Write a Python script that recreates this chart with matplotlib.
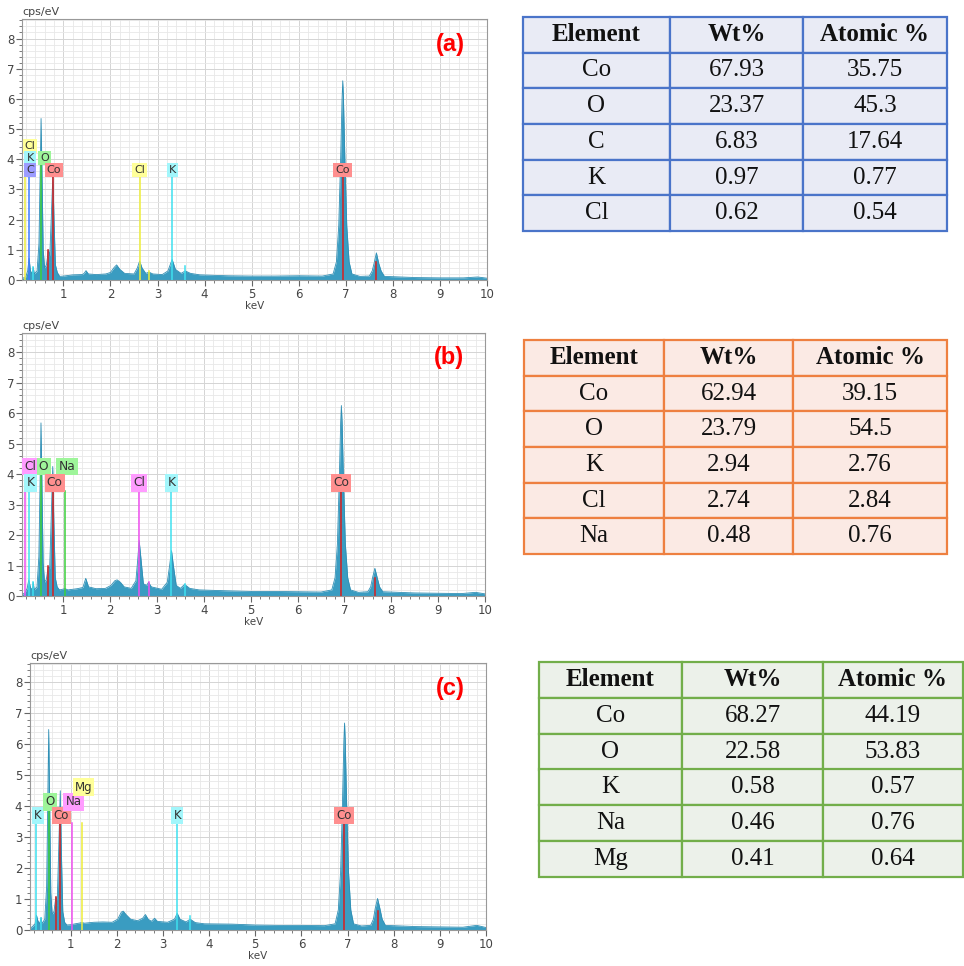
import matplotlib
matplotlib.use('Agg')
import matplotlib.pyplot as plt
from matplotlib.ticker import MultipleLocator

# EDS spectra: energy (keV) and intensity (cps/eV) at the corners of the trace
a_kev = [0.12, 0.20, 0.24, 0.27, 0.30, 0.34, 0.36, 0.38, 0.44, 0.48, 0.50, 0.525, 0.55, 0.57,
         0.60, 0.64, 0.68, 0.71, 0.74, 0.776, 0.80, 0.83, 0.87, 0.92, 1.0, 1.2, 1.4, 1.44,
         1.48, 1.53, 1.7, 1.9, 2.0, 2.08, 2.13, 2.2, 2.3, 2.5, 2.57, 2.62, 2.67, 2.75, 2.82,
         2.9, 3.1, 3.22, 3.31, 3.38, 3.5, 3.59, 3.7, 3.9, 4.5, 5.0, 5.5, 6.0, 6.5, 6.73,
         6.80, 6.85, 6.89, 6.92, 6.935, 6.95, 6.98, 7.02, 7.07, 7.13, 7.3, 7.5, 7.56, 7.6,
         7.65, 7.70, 7.75, 7.82, 8.5, 9.0, 9.5, 9.8, 10.0]
a_cps = [0.05, 0.10, 0.30, 0.72, 0.30, 0.20, 0.42, 0.20, 0.30, 1.2, 3.0, 5.35, 3.0, 1.0,
         0.40, 0.50, 1.0, 0.8, 2.0, 3.5, 2.0, 0.5, 0.25, 0.12, 0.13, 0.17, 0.18, 0.22,
         0.31, 0.20, 0.18, 0.20, 0.25, 0.42, 0.50, 0.35, 0.22, 0.20, 0.40, 0.63, 0.40, 0.22, 0.26,
         0.20, 0.18, 0.30, 0.68, 0.35, 0.22, 0.30, 0.22, 0.17, 0.14, 0.13, 0.13, 0.14, 0.13, 0.2,
         0.6, 1.8, 4.0, 6.0, 6.6, 6.0, 4.0, 1.8, 0.6, 0.2, 0.12, 0.13, 0.3, 0.55,
         0.9, 0.55, 0.3, 0.12, 0.08, 0.07, 0.07, 0.10, 0.06]

b_kev = [0.12, 0.18, 0.23, 0.265, 0.30, 0.34, 0.36, 0.38, 0.44, 0.48, 0.50, 0.525, 0.55, 0.57,
         0.60, 0.64, 0.68, 0.71, 0.74, 0.776, 0.80, 0.83, 0.87, 0.92, 1.04, 1.1, 1.3, 1.42,
         1.48, 1.54, 1.7, 1.9, 2.02, 2.1, 2.15, 2.22, 2.3, 2.45, 2.55, 2.59, 2.62, 2.66, 2.71,
         2.78, 2.82, 2.88, 3.1, 3.22, 3.27, 3.31, 3.35, 3.41, 3.5, 3.59, 3.7, 3.9, 4.5, 5.0,
         5.5, 6.0, 6.5, 6.73, 6.80, 6.85, 6.89, 6.92, 6.935, 6.95, 6.98, 7.02, 7.07, 7.13,
         7.3, 7.5, 7.56, 7.6, 7.65, 7.70, 7.75, 7.82, 8.5, 9.0, 9.5, 9.8, 10.0]
b_cps = [0.05, 0.10, 0.25, 0.53, 0.28, 0.20, 0.45, 0.20, 0.30, 1.3, 3.2, 5.68, 3.2, 1.1,
         0.45, 0.55, 0.96, 0.9, 2.4, 4.25, 2.4, 0.6, 0.30, 0.20, 0.24, 0.20, 0.24, 0.28,
         0.58, 0.30, 0.24, 0.25, 0.35, 0.50, 0.53, 0.45, 0.30, 0.25, 0.50, 1.2, 1.82, 1.2, 0.40,
         0.35, 0.45, 0.30, 0.22, 0.45, 1.0, 1.49, 1.0, 0.35, 0.25, 0.38, 0.25, 0.20, 0.17, 0.15,
         0.15, 0.14, 0.13, 0.2, 0.6, 1.7, 3.8, 5.7, 6.25, 5.7, 3.8, 1.7, 0.6, 0.2,
         0.12, 0.14, 0.3, 0.6, 0.91, 0.6, 0.3, 0.14, 0.10, 0.09, 0.08, 0.12, 0.07]

c_kev = [0.12, 0.18, 0.23, 0.26, 0.29, 0.33, 0.36, 0.38, 0.44, 0.48, 0.50, 0.525, 0.55, 0.57,
         0.60, 0.64, 0.68, 0.71, 0.74, 0.776, 0.80, 0.83, 0.87, 0.92, 1.0, 1.1, 1.25, 1.3,
         1.5, 1.7, 1.9, 2.02, 2.1, 2.14, 2.2, 2.3, 2.45, 2.56, 2.62, 2.68, 2.75, 2.82, 2.88,
         3.1, 3.25, 3.31, 3.37, 3.5, 3.59, 3.7, 3.9, 4.5, 5.0, 5.5, 6.0, 6.5, 6.73,
         6.80, 6.85, 6.89, 6.92, 6.935, 6.95, 6.98, 7.02, 7.07, 7.13, 7.3, 7.5, 7.56, 7.6,
         7.65, 7.70, 7.75, 7.82, 8.5, 9.0, 9.5, 9.8, 10.0]
c_cps = [0.05, 0.12, 0.20, 0.48, 0.30, 0.20, 0.40, 0.20, 0.35, 1.4, 3.6, 6.48, 3.6, 1.2,
         0.50, 0.60, 1.07, 0.95, 2.5, 4.5, 2.5, 0.6, 0.25, 0.16, 0.17, 0.20, 0.24, 0.22,
         0.25, 0.26, 0.25, 0.35, 0.58, 0.61, 0.50, 0.35, 0.30, 0.38, 0.50, 0.35, 0.28, 0.38, 0.28,
         0.25, 0.35, 0.54, 0.35, 0.26, 0.35, 0.24, 0.20, 0.19, 0.16, 0.15, 0.15, 0.14, 0.2,
         0.65, 1.9, 4.1, 6.1, 6.69, 6.1, 4.1, 1.9, 0.65, 0.2, 0.13, 0.15, 0.35, 0.7,
         1.02, 0.7, 0.35, 0.15, 0.11, 0.10, 0.09, 0.15, 0.08]

# element marker lines: (element, keV, height)
a_lines = [('Cl', 0.18, 3.45), ('C', 0.277, 3.45), ('K', 0.36, 0.42), ('O', 0.525, 3.85),
           ('Co', 0.678, 1.0), ('Co', 0.776, 3.45), ('Cl', 2.62, 3.45), ('Cl', 2.82, 0.3),
           ('K', 3.31, 3.45), ('K', 3.59, 0.45), ('Co', 6.93, 3.45), ('Co', 7.65, 0.6)]
b_lines = [('Cl', 0.18, 3.45), ('K', 0.27, 3.45), ('K', 0.36, 0.45), ('O', 0.525, 3.95),
           ('Co', 0.678, 1.0), ('Co', 0.776, 3.45), ('Na', 1.04, 3.45), ('Cl', 2.62, 3.45),
           ('Cl', 2.82, 0.45), ('K', 3.31, 3.45), ('K', 3.59, 0.4), ('Co', 6.93, 3.45),
           ('Co', 7.65, 0.6)]
c_lines = [('K', 0.26, 3.45), ('K', 0.36, 0.4), ('O', 0.525, 3.9), ('Co', 0.678, 1.07),
           ('Co', 0.776, 3.45), ('Na', 1.04, 3.45), ('Mg', 1.25, 3.45), ('K', 3.31, 3.45),
           ('K', 3.59, 0.45), ('Co', 6.93, 3.45), ('Co', 7.65, 0.6)]

# element tags: (element, keV, stack row)
a_tags = [('Cl', 0.29, 2), ('K', 0.29, 1), ('C', 0.29, 0), ('O', 0.60, 1), ('Co', 0.80, 0),
          ('Cl', 2.62, 0), ('K', 3.31, 0), ('Co', 6.93, 0)]
b_tags = [('Cl', 0.29, 1), ('K', 0.30, 0), ('O', 0.58, 1), ('Na', 1.08, 1), ('Co', 0.82, 0),
          ('Cl', 2.62, 0), ('K', 3.31, 0), ('Co', 6.93, 0)]
c_tags = [('K', 0.29, 0), ('O', 0.55, 1), ('Co', 0.80, 0), ('Na', 1.06, 1), ('Mg', 1.28, 2),
          ('K', 3.31, 0), ('Co', 6.93, 0)]

# quantification tables
header = ['Element', 'Wt%', 'Atomic %']
a_el = ['Co', 'O', 'C', 'K', 'Cl']
a_wt = ['67.93', '23.37', '6.83', '0.97', '0.62']
a_at = ['35.75', '45.3', '17.64', '0.77', '0.54']
b_el = ['Co', 'O', 'K', 'Cl', 'Na']
b_wt = ['62.94', '23.79', '2.94', '2.74', '0.48']
b_at = ['39.15', '54.5', '2.76', '2.84', '0.76']
c_el = ['Co', 'O', 'K', 'Na', 'Mg']
c_wt = ['68.27', '22.58', '0.58', '0.46', '0.41']
c_at = ['44.19', '53.83', '0.57', '0.76', '0.64']

# line / tag colours
BLUE = ('#3d7dff', '#9c9cff')
CYAN = ('#3fe0ef', '#a2f6fb')
GREEN = ('#3ccf3c', '#9ef59a')
RED = ('#d81e1e', '#ff8f8f')
YELLOW = ('#eeee3a', '#ffff99')
MAGENTA = ('#f050f0', '#ff9cff')
a_col = {'C': BLUE, 'K': CYAN, 'O': GREEN, 'Co': RED, 'Cl': YELLOW}
b_col = {'K': CYAN, 'O': GREEN, 'Co': RED, 'Cl': MAGENTA, 'Na': GREEN}
c_col = {'K': CYAN, 'O': GREEN, 'Co': RED, 'Na': MAGENTA, 'Mg': YELLOW}

W, H = 964, 966
fig = plt.figure(figsize=(W / 100, H / 100), dpi=100)


def px_rect(left, top, right, bottom):
    return [left / W, 1 - bottom / H, (right - left) / W, (bottom - top) / H]


def spectrum(rect, kev, cps, lines, tags, cols, rows, tag, tagsize):
    ax = fig.add_axes(rect)
    ax.fill_between(kev, cps, color='#3a9cc1', lw=0, zorder=2)
    ax.plot(kev, cps, color='#2f8fb5', lw=0.6, zorder=2)
    for el, e, top in lines:
        ax.plot([e, e], [0, top], color=cols[el][0], lw=1.1, zorder=3)
    for el, e, r in tags:
        ax.text(e, rows[r], el, ha='center', va='center', fontsize=tagsize, color='#333333',
                zorder=4, bbox=dict(boxstyle='square,pad=0.18', fc=cols[el][1], ec='none'))
    ax.set_xlim(0.12, 10)
    ax.set_ylim(0, 8.63)
    ax.xaxis.set_major_locator(MultipleLocator(1))
    ax.xaxis.set_minor_locator(MultipleLocator(0.2))
    ax.yaxis.set_major_locator(MultipleLocator(1))
    ax.yaxis.set_minor_locator(MultipleLocator(0.2))
    ax.grid(which='minor', color='#e8e8e8', lw=0.6)
    ax.grid(which='major', color='#d4d4d4', lw=0.7)
    ax.set_axisbelow(True)
    ax.tick_params(which='major', length=4, width=0.8, color='#666666', labelsize=8.5,
                   labelcolor='#444444', pad=1.5)
    ax.tick_params(which='minor', length=2, width=0.6, color='#666666')
    for s in ax.spines.values():
        s.set_color('#999999')
        s.set_linewidth(0.8)
    ax.set_xlabel('keV', fontsize=7.5, color='#444444', labelpad=0)
    ax.text(0.0, 1.008, 'cps/eV', transform=ax.transAxes, fontsize=8, color='#444444',
            ha='left', va='bottom')
    ax.text(0.922, 0.905, tag, transform=ax.transAxes, fontsize=17, color='#ff0000',
            fontweight='bold', family='Liberation Sans', ha='center', va='center')


def table(rect, el, wt, at, edge, face, widths):
    ax = fig.add_axes(rect)
    ax.axis('off')
    body = [list(r) for r in zip(el, wt, at)]
    tot = sum(widths)
    tb = ax.table(cellText=body, colLabels=header, colWidths=[w / tot for w in widths],
                  cellLoc='center', bbox=[0, 0, 1, 1])
    tb.auto_set_font_size(False)
    for (r, c), cell in tb.get_celld().items():
        cell.set_edgecolor(edge)
        cell.set_facecolor(face)
        cell.set_linewidth(1.6)
        t = cell.get_text()
        t.set_fontfamily('Liberation Serif')
        t.set_fontsize(18)
        t.set_color('#111111')
        if r == 0:
            t.set_fontweight('bold')


spectrum(px_rect(22, 19.5, 487, 280), a_kev, a_cps, a_lines, a_tags, a_col,
         [3.64, 4.05, 4.45], '(a)', 8)
spectrum(px_rect(22, 333, 485, 596), b_kev, b_cps, b_lines, b_tags, b_col,
         [3.71, 4.25], '(b)', 8.8)
spectrum(px_rect(30, 663, 486, 930), c_kev, c_cps, c_lines, c_tags, c_col,
         [3.69, 4.14, 4.62], '(c)', 8.5)

table(px_rect(523, 17, 947, 231), a_el, a_wt, a_at, '#4a74c9', '#e9ebf5', [147, 133, 144])
table(px_rect(524, 340, 947, 554), b_el, b_wt, b_at, '#ee8040', '#fbeae4', [140, 129, 154])
table(px_rect(539, 662, 963, 877), c_el, c_wt, c_at, '#72ae4a', '#ecf1ea', [143, 141, 140])

fig.savefig('out.png', dpi=100, facecolor='white')
